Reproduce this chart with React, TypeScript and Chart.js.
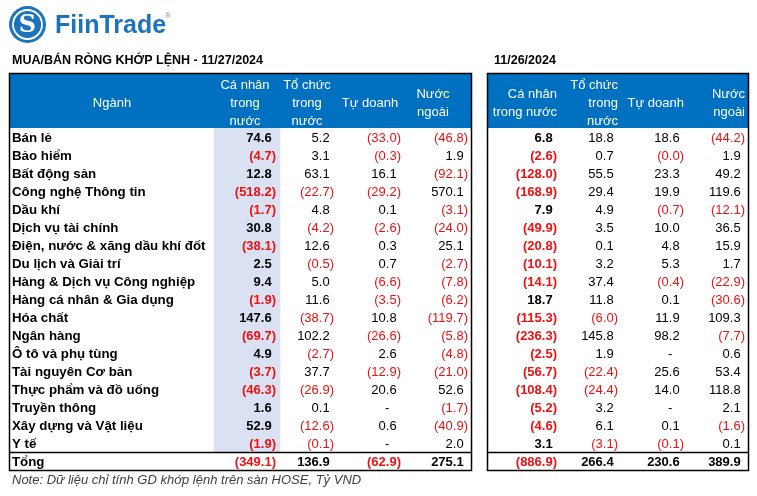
import { useEffect, useRef } from 'react';
import { Chart, registerables } from 'chart.js';

Chart.register(...registerables);

// ---------- DATA ----------
const SECTORS = [
  'Bán lẻ',
  'Bảo hiểm',
  'Bất động sản',
  'Công nghệ Thông tin',
  'Dầu khí',
  'Dịch vụ tài chính',
  'Điện, nước & xăng dầu khí đốt',
  'Du lịch và Giải trí',
  'Hàng & Dịch vụ Công nghiệp',
  'Hàng cá nhân & Gia dụng',
  'Hóa chất',
  'Ngân hàng',
  'Ô tô và phụ tùng',
  'Tài nguyên Cơ bản',
  'Thực phẩm và đồ uống',
  'Truyền thông',
  'Xây dựng và Vật liệu',
  'Y tế',
];
const TOTAL_LABEL = 'Tổng';

// 11/27/2024
const D27_CA_NHAN = [74.6, -4.7, 12.8, -518.2, -1.7, 30.8, -38.1, 2.5, 9.4, -1.9, 147.6, -69.7, 4.9, -3.7, -46.3, 1.6, 52.9, -1.9];
const D27_TO_CHUC = [5.2, 3.1, 63.1, -22.7, 4.8, -4.2, 12.6, -0.5, 5.0, 11.6, -38.7, 102.2, -2.7, 37.7, -26.9, 0.1, -12.6, -0.1];
const D27_TU_DOANH = [-33.0, -0.3, 16.1, -29.2, 0.1, -2.6, 0.3, 0.7, -6.6, -3.5, 10.8, -26.6, 2.6, -12.9, 20.6, null, 0.6, null];
const D27_NUOC_NGOAI = [-46.8, 1.9, -92.1, 570.1, -3.1, -24.0, 25.1, -2.7, -7.8, -6.2, -119.7, -5.8, -4.8, -21.0, 52.6, -1.7, -40.9, 2.0];
const D27_TOTAL = [-349.1, 136.9, -62.9, 275.1];

// 11/26/2024
const D26_CA_NHAN = [6.8, -2.6, -128.0, -168.9, 7.9, -49.9, -20.8, -10.1, -14.1, 18.7, -115.3, -236.3, -2.5, -56.7, -108.4, -5.2, -4.6, 3.1];
const D26_TO_CHUC = [18.8, 0.7, 55.5, 29.4, 4.9, 3.5, 0.1, 3.2, 37.4, 11.8, -6.0, 145.8, 1.9, -22.4, -24.4, 3.2, 6.1, -3.1];
const D26_TU_DOANH = [18.6, -0.04, 23.3, 19.9, -0.7, 10.0, 4.8, 5.3, -0.4, 0.1, 11.9, 98.2, null, 25.6, 14.0, null, 0.1, -0.1];
const D26_NUOC_NGOAI = [-44.2, 1.9, 49.2, 119.6, -12.1, 36.5, 15.9, 1.7, -22.9, -30.6, 109.3, -7.7, 0.6, 53.4, 118.8, 2.1, -1.6, 0.1];
const D26_TOTAL = [-886.9, 266.4, 230.6, 389.9];

const TITLE_LEFT = 'MUA/BÁN RÒNG KHỚP LỆNH - 11/27/2024';
const TITLE_RIGHT = '11/26/2024';
const SECTOR_HEADER = 'Ngành';
const HEADERS_LEFT = [['Cá nhân', 'trong', 'nước'], ['Tổ chức', 'trong', 'nước'], ['Tự doanh'], ['Nước', 'ngoài']];
const HEADERS_RIGHT = [['Cá nhân', 'trong nước'], ['Tổ chức', 'trong', 'nước'], ['Tự doanh'], ['Nước', 'ngoài']];
const NOTE = 'Note: Dữ liệu chỉ tính GD khớp lệnh trên sàn HOSE, Tỷ VND';
const BRAND = 'FiinTrade';

// ---------- LAYOUT / STYLE ----------
const W = 757;
const H = 496;
const FONT = '"Liberation Sans", Arial, sans-serif';
const BLUE = '#0070C0';
const RED = '#EE1111';
const HILITE = '#D9E1F2';
const BRAND_BLUE = '#1C75BC';
const LEFT_TABLE = [9, 471];
const RIGHT_TABLE = [487, 748];
const LEFT_COL_R = [276, 334, 401, 468];
const RIGHT_COL_R = [557, 618, 684, 745];
const LEFT_HEAD_C = [245, 307, 370, 433];
const RIGHT_HEAD_R = [557, 618, 684, 745];
const SECTOR_HEAD_C = 112;
const HILITE_SPAN = [214, 280];
const LABEL_X = 12;
const BODY_TOP = 128;
const HEAD_TOP = 73;

const ROWS = [...SECTORS, TOTAL_LABEL];
const LEFT_COLS = [D27_CA_NHAN, D27_TO_CHUC, D27_TU_DOANH, D27_NUOC_NGOAI];
const RIGHT_COLS = [D26_CA_NHAN, D26_TO_CHUC, D26_TU_DOANH, D26_NUOC_NGOAI];

function fmt(v: number | null) {
  if (v === null) return '-';
  const s = Math.abs(v).toFixed(1);
  return v < 0 ? `(${s})` : s;
}

const tablePlugin = {
  id: 'tableText',
  beforeDraw(chart: any) {
    const ctx = chart.ctx;
    ctx.save();
    ctx.fillStyle = '#ffffff';
    ctx.fillRect(0, 0, W, H);
    ctx.restore();
  },
  afterDraw(chart: any) {
    const ctx: CanvasRenderingContext2D = chart.ctx;
    const xs = chart.scales.x;
    const ys = chart.scales.y;
    const px = (v: number) => xs.getPixelForValue(v);
    const top = chart.chartArea.top;
    const bottom = chart.chartArea.bottom;
    ctx.save();

    // logo
    ctx.fillStyle = BRAND_BLUE;
    ctx.beginPath();
    ctx.arc(27.5, 24.5, 18.5, 0, Math.PI * 2);
    ctx.fill();
    ctx.strokeStyle = '#ffffff';
    ctx.lineWidth = 1.8;
    ctx.beginPath();
    ctx.arc(27.5, 24.5, 14.5, 0, Math.PI * 2);
    ctx.stroke();
    ctx.fillStyle = '#ffffff';
    ctx.font = `bold 24px "DejaVu Serif", serif`;
    ctx.textAlign = 'center';
    ctx.textBaseline = 'middle';
    ctx.fillText('S', 27.5, 25.5);
    ctx.textBaseline = 'alphabetic';
    ctx.textAlign = 'left';
    ctx.fillStyle = BRAND_BLUE;
    ctx.font = `bold 25px ${FONT}`;
    ctx.fillText(BRAND, 55, 33);
    ctx.fillStyle = '#8090a0';
    ctx.font = `8px ${FONT}`;
    ctx.fillText('®', 165, 18);

    // titles
    ctx.fillStyle = '#000000';
    ctx.font = `bold 12.5px ${FONT}`;
    ctx.fillText(TITLE_LEFT, LABEL_X, 64);
    ctx.fillText(TITLE_RIGHT, 494, 64);

    // header backgrounds
    const tables = [LEFT_TABLE, RIGHT_TABLE];
    ctx.fillStyle = BLUE;
    for (const t of tables) {
      ctx.fillRect(px(t[0]), HEAD_TOP, px(t[1]) - px(t[0]), top - HEAD_TOP);
    }

    // borders
    ctx.strokeStyle = '#000000';
    ctx.lineWidth = 1.5;
    const lastSectorBottom = ys.getPixelForValue(SECTORS.length - 1) + (ys.getPixelForValue(1) - ys.getPixelForValue(0)) / 2;
    for (const t of tables) {
      const x0 = px(t[0]);
      const x1 = px(t[1]);
      ctx.strokeRect(x0 + 0.5, HEAD_TOP + 0.5, x1 - x0, bottom - HEAD_TOP);
      ctx.beginPath();
      ctx.moveTo(x0, Math.round(lastSectorBottom) + 0.5);
      ctx.lineTo(x1, Math.round(lastSectorBottom) + 0.5);
      ctx.stroke();
    }

    // header text
    ctx.fillStyle = '#ffffff';
    ctx.font = `13px ${FONT}`;
    ctx.textAlign = 'center';
    ctx.fillText(SECTOR_HEADER, px(SECTOR_HEAD_C), top - 21);
    const drawHead = (lines: string[], x: number) => {
      const n = lines.length;
      const base = n === 3 ? top - 39 : n === 2 ? top - 30 : top - 21;
      lines.forEach((l, i) => ctx.fillText(l, x, base + i * 18));
    };
    HEADERS_LEFT.forEach((h, i) => drawHead(h, px(LEFT_HEAD_C[i])));
    ctx.textAlign = 'right';
    HEADERS_RIGHT.forEach((h, i) => drawHead(h, px(RIGHT_HEAD_R[i])));

    // row labels
    ctx.textAlign = 'left';
    ctx.fillStyle = '#000000';
    ctx.font = `bold 13.3px ${FONT}`;
    ROWS.forEach((r, i) => {
      ctx.fillText(r, px(LABEL_X), ys.getPixelForValue(i) + 5);
    });

    // values
    const drawVal = (v: number | null, right: number, y: number, bold: boolean) => {
      ctx.font = `${bold ? 'bold ' : ''}13px ${FONT}`;
      const paren = ctx.measureText(')').width;
      const digit = ctx.measureText('0').width;
      const s = fmt(v);
      let x = right;
      if (v === null) {
        x = right - paren - digit;
        ctx.fillStyle = '#000000';
      } else if (v < 0) {
        ctx.fillStyle = RED;
      } else {
        x = right - paren;
        ctx.fillStyle = '#000000';
      }
      ctx.textAlign = 'right';
      ctx.fillText(s, x, y);
    };
    const drawTable = (cols: (number | null)[][], totals: number[], rights: number[]) => {
      cols.forEach((col, c) => {
        col.forEach((v, r) => {
          drawVal(v, px(rights[c]), ys.getPixelForValue(r) + 5, c === 0);
        });
        drawVal(totals[c], px(rights[c]), ys.getPixelForValue(SECTORS.length) + 5, true);
      });
    };
    drawTable(LEFT_COLS, D27_TOTAL, LEFT_COL_R);
    drawTable(RIGHT_COLS, D26_TOTAL, RIGHT_COL_R);

    // note
    ctx.textAlign = 'left';
    ctx.fillStyle = '#404040';
    ctx.font = `italic 13px ${FONT}`;
    ctx.fillText(NOTE, LABEL_X, 484);
    ctx.restore();
  },
};

export default function App() {
  const ref = useRef<HTMLCanvasElement | null>(null);
  useEffect(() => {
    if (!ref.current) return;
    const chart = new Chart(ref.current, {
      type: 'bar',
      data: {
        labels: ROWS,
        datasets: [
          {
            label: 'highlight',
            data: ROWS.map((_, i) => (i < SECTORS.length ? [HILITE_SPAN[0], HILITE_SPAN[1]] : null)) as any,
            backgroundColor: HILITE,
            borderWidth: 0,
            barPercentage: 1,
            categoryPercentage: 1,
          },
        ],
      },
      options: {
        indexAxis: 'y',
        responsive: false,
        animation: false,
        events: [],
        layout: { padding: { top: BODY_TOP, bottom: H - 470, left: 0, right: 0 } },
        plugins: { legend: { display: false }, tooltip: { enabled: false }, title: { display: false } },
        scales: {
          x: { type: 'linear', min: 0, max: W, display: false },
          y: { type: 'category', display: false, offset: true },
        },
      },
      plugins: [tablePlugin],
    });
    return () => chart.destroy();
  }, []);
  return (
    <div style={{ position: 'absolute', left: 0, top: 0, width: W, height: H }}>
      <canvas ref={ref} width={W} height={H} style={{ width: W, height: H, display: 'block' }} />
    </div>
  );
}
